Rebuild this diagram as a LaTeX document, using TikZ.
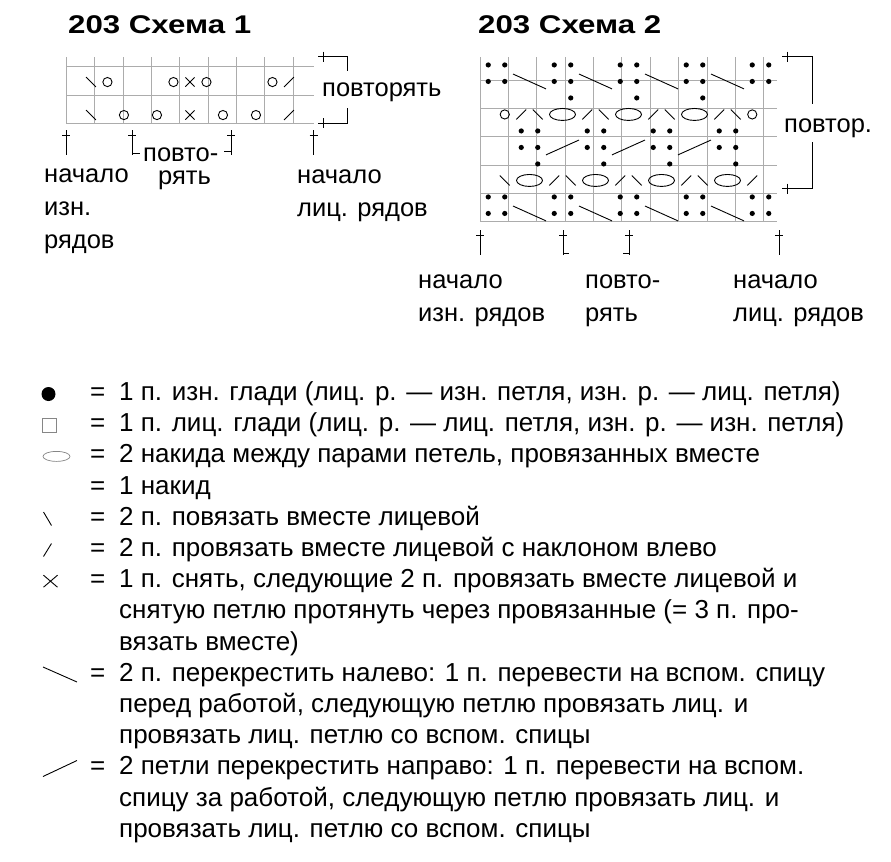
\documentclass[tikz,border=0pt]{standalone}
\usepackage{fontspec}
\setmainfont{Liberation Sans}
\newfontfamily\headfont[FakeStretch=1.22]{Liberation Sans}
\tikzstyle{gridline} = [draw=gray!65, line width=0.5bp]
\tikzstyle{keyline} = [draw=gray!95, line width=0.7bp]
\tikzstyle{sym} = [draw=black, line width=0.9bp]
\tikzstyle{heading} = [font=\headfont\bfseries\fontsize{25.6bp}{30bp}\selectfont, anchor=base west, inner sep=0]
\tikzstyle{note} = [font=\fontsize{25.5bp}{32.8bp}\selectfont, anchor=base west, inner sep=0, align=left]
\tikzstyle{legendtext} = [font=\fontsize{26bp}{31.2bp}\selectfont, anchor=base west, inner sep=0, align=left]
\newcommand{\purl}[2]{\fill (#1-0.5,#2-0.5) circle[radius=2.6bp];}
\newcommand{\yo}[2]{\draw[sym] (#1-0.5,#2-0.5) circle[radius=4.6bp];}
\newcommand{\ktog}[2]{\draw[sym] (#1-0.8,#2-0.2) -- (#1-0.2,#2-0.8);}
\newcommand{\ktogl}[2]{\draw[sym] (#1-0.8,#2-0.8) -- (#1-0.2,#2-0.2);}
\newcommand{\sktog}[2]{\draw[sym] (#1-0.78,#2-0.22) -- (#1-0.22,#2-0.78) (#1-0.78,#2-0.78) -- (#1-0.22,#2-0.22);}
\newcommand{\crossleft}[2]{\draw[sym] (#1-1,#2-0.05) -- (#1+1,#2-0.95);}
\newcommand{\crossright}[2]{\draw[sym] (#1-1,#2-0.95) -- (#1+1,#2-0.05);}
\newcommand{\twoyo}[2]{\draw[sym] (#1,#2-0.5) ellipse[x radius=13bp, y radius=6bp];}
\newcommand{\startmark}[1]{\draw[sym] (#1) -- ++(0,25) (#1) ++(-4,5) -- ++(8,0);}

\begin{document}
\begin{tikzpicture}[x=1bp, y=-1bp]
    \useasboundingbox (0,0) rectangle (891,862);

    \node (head1) [heading] at (68,33) {203 Схема 1};
    \node (head2) [heading] at (478,33) {203 Схема 2};

    \begin{scope}[shift={(66.2,123.3)}, x=16.5bp, y=16.5bp]
        \draw[gridline] (0,0) grid (15,4);
        \ktog{2}{1} \yo{4}{1} \yo{6}{1} \sktog{8}{1} \yo{10}{1} \yo{12}{1} \ktogl{14}{1}
        \ktog{2}{3} \yo{3}{3} \yo{7}{3} \sktog{8}{3} \yo{9}{3} \yo{13}{3} \ktogl{14}{3}
    \end{scope}

    \begin{scope}[shift={(480,221.7)}, x=16.5bp, y=16.5bp]
        \draw[gridline] (0,0) grid (18,10);
        \foreach \c in {1,2,5,6,9,10,13,14,17,18} {\purl{\c}{1} \purl{\c}{2} \purl{\c}{9} \purl{\c}{10}}
        \foreach \c in {3,7,11,15} {\crossleft{\c}{1} \crossleft{\c}{9}}
        \foreach \c in {3,4,7,8,11,12,15,16} {\purl{\c}{5} \purl{\c}{6}}
        \foreach \c in {5,9,13} {\crossright{\c}{5}}
        \foreach \c in {4,8,12,16} {\purl{\c}{4}}
        \foreach \c in {6,10,14} {\purl{\c}{8}}
        \ktog{2}{3}
        \foreach \c in {3,7,11,15} {\twoyo{\c}{3}}
        \foreach \c in {5,9,13,17} {\ktogl{\c}{3}}
        \foreach \c in {6,10,14} {\ktog{\c}{3}}
        \yo{2}{7} \yo{17}{7}
        \foreach \c in {3,7,11,15} {\ktogl{\c}{7}}
        \foreach \c in {4,8,12,16} {\ktog{\c}{7}}
        \foreach \c in {5,9,13} {\twoyo{\c}{7}}
    \end{scope}

    \node (rep1) [note] at (322,96) {повторять};
    \coordinate (rep1top) at (323,56.7);
    \coordinate (rep1bot) at (323,123.3);
    \draw[sym] (rep1top) ++(-5,0) -- ++(29,0) -- ++(0,14);
    \draw[sym] (rep1top) ++(0,-5) -- ++(0,10);
    \draw[sym] (rep1bot) ++(-5,0) -- ++(29,0) -- ++(0,-15);
    \draw[sym] (rep1bot) ++(0,-5) -- ++(0,10);

    \node (rep2) [note] at (784,132) {повтор.};
    \coordinate (rep2top) at (787,56.7);
    \coordinate (rep2bot) at (787,188.7);
    \draw[sym] (rep2top) ++(-5,0) -- ++(30,0) -- ++(0,47);
    \draw[sym] (rep2top) ++(0,-5) -- ++(0,10);
    \draw[sym] (rep2bot) ++(-5,0) -- ++(30,0) -- ++(0,-47);
    \draw[sym] (rep2bot) ++(0,-5) -- ++(0,10);

    \coordinate (a1) at (66.2,130);
    \coordinate (a2) at (132.2,130);
    \coordinate (a3) at (231.2,130);
    \coordinate (a4) at (313.7,130);
    \foreach \m in {a1,a2,a3,a4} {\startmark{\m}}
    \draw[sym] (a2) ++(0,23) -- ++(8,0);
    \draw[sym] (a3) ++(0,21) -- ++(-7,0);
    \node (wrong1) [note] at (44,248) {начало\\изн.\\рядов};
    \node (rpt1a) [note] at (143,161.7) {повто-};
    \node (rpt1b) [note] at (158,184) {рять};
    \node (right1) [note] at (297,216) {начало\\лиц. рядов};

    \coordinate (b1) at (480,230);
    \coordinate (b2) at (563,230);
    \coordinate (b3) at (629,230);
    \coordinate (b4) at (779,230);
    \foreach \m in {b1,b2,b3,b4} {\startmark{\m}}
    \draw[sym] (b2) ++(0,23) -- ++(6,0);
    \draw[sym] (b3) ++(0,23) -- ++(-6,0);
    \node (wrong2) [note] at (418,321) {начало\\изн. рядов};
    \node (rpt2) [note] at (585,321) {повто-\\рять};
    \node (right2) [note] at (733,321) {начало\\лиц. рядов};

    \fill (48.5,394) circle[radius=7bp];
    \draw[keyline] (42.5,418) rectangle (56.5,432);
    \draw[keyline] (56.5,456.4) ellipse[x radius=13.5bp, y radius=5bp];
    \draw[sym] (43.5,512) -- (51.5,525.5);
    \draw[sym] (43.5,556.5) -- (51.5,543.5);
    \draw[sym] (43.5,575.2) -- (57.5,587.2) (43.5,587.2) -- (57.5,575.2);
    \draw[sym] (43,667) -- (77,682);
    \draw[sym] (43,776.5) -- (77,760.5);
    \foreach \k in {1,...,7,10,13} {\node (eq\k) [legendtext] at (90,400.5+31.2*\k-31.2) {=};}
    \node (legend) [legendtext] at (119,837.3) {1 п. изн. глади (лиц. р. — изн. петля, изн. р. — лиц. петля)\\
        1 п. лиц. глади (лиц. р. — лиц. петля, изн. р. — изн. петля)\\
        2 накида между парами петель, провязанных вместе\\
        1 накид\\
        2 п. повязать вместе лицевой\\
        2 п. провязать вместе лицевой с наклоном влево\\
        1 п. снять, следующие 2 п. провязать вместе лицевой и\\
        снятую петлю протянуть через провязанные (= 3 п. про-\\
        вязать вместе)\\
        2 п. перекрестить налево: 1 п. перевести на вспом. спицу\\
        перед работой, следующую петлю провязать лиц. и\\
        провязать лиц. петлю со вспом. спицы\\
        2 петли перекрестить направо: 1 п. перевести на вспом.\\
        спицу за работой, следующую петлю провязать лиц. и\\
        провязать лиц. петлю со вспом. спицы};
\end{tikzpicture}
\end{document}
